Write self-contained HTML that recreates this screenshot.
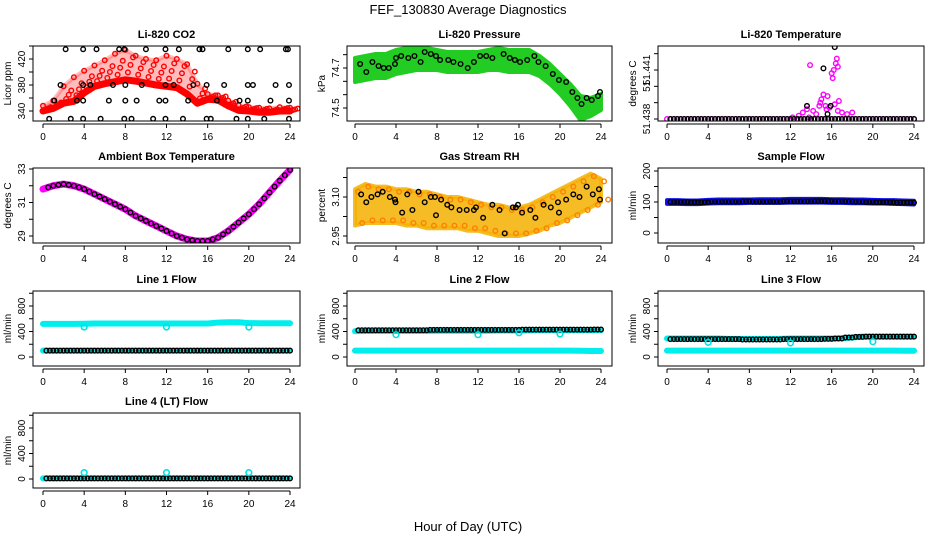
<!DOCTYPE html>
<html><head><meta charset="utf-8"><style>
html,body{margin:0;padding:0;background:#fff}
svg{display:block;font-family:"Liberation Sans",sans-serif}
</style></head><body>
<svg id="c" width="936" height="540" viewBox="0 0 936 540">
<text x="468" y="14" text-anchor="middle" font-size="13">FEF_130830  Average Diagnostics</text>
<text x="468" y="531" text-anchor="middle" font-size="13">Hour of Day (UTC)</text>
</svg>
<script>
// ---------- data ----------
const hours = [0,1,2,3,4,5,6,7,8,9,10,11,12,13,14,15,16,17,18,19,20,21,22,23,24];
const xTicks = [0,4,8,12,16,20,24];
// CO2
const co2Low  = [340,344,352,355,368,378,382,385,388,386,383,380,378,376,366,352,358,357,348,341,340,338,338,340,340];
const co2High = [348,356,378,392,402,410,418,428,434,425,420,418,425,420,412,382,366,364,356,349,346,345,344,346,345];
const co2BlkX = [2.2,3.9,5.2,7.4,7.9,10,11.9,13.2,15.2,15.5,18,19.9,21.1,23.6,23.8,1.7,3.9,4.6,6.8,8,9.6,11.9,12.7,14.6,15.9,17.6,19.9,20.4,22.6,23.9,1.1,3.3,3.9,6.4,8,9.1,11.3,11.9,14.1,16.9,19.1,19.9,22.1,23.9,0.6,2.7,3.9,5.6,7.9,8.6,10.7,11.9,13.6,15.9,16.3,18.8,19.9,21.5,23.9];
const co2BlkY = [435,435,435,435,435,435,435,435,435,435,435,435,435,435,435,380,380,380,380,380,380,380,380,380,380,380,380,380,380,380,356,356,356,356,356,356,356,356,356,356,356,356,356,356,328,328,328,328,328,328,328,328,328,328,328,328,328,328,328];
// Pressure
const prLow  = [74.63,74.64,74.65,74.65,74.67,74.68,74.69,74.69,74.69,74.68,74.68,74.68,74.68,74.69,74.69,74.68,74.68,74.68,74.66,74.62,74.57,74.51,74.44,74.46,74.49];
const prHigh = [74.75,74.76,74.77,74.77,74.79,74.80,74.81,74.80,74.79,74.78,74.78,74.78,74.78,74.79,74.80,74.79,74.79,74.79,74.76,74.72,74.67,74.62,74.56,74.55,74.57];
const prBlkX = [0.5,1.1,1.7,2.3,2.8,3.3,3.9,4.0,4.5,5.2,5.8,6.4,6.8,7.4,7.9,8.3,9.1,9.6,10.3,11,11.6,12.2,12.8,13.4,14.5,15.1,15.6,16.1,16.8,17.5,17.9,18.6,19.3,19.9,20.6,21.2,21.7,22.1,22.6,23.1,23.7,23.9];
const prBlkY = [74.72,74.68,74.73,74.71,74.70,74.70,74.72,74.75,74.76,74.75,74.76,74.73,74.78,74.77,74.76,74.74,74.74,74.73,74.72,74.70,74.73,74.76,74.76,74.75,74.77,74.75,74.74,74.73,74.74,74.76,74.73,74.71,74.67,74.64,74.63,74.58,74.55,74.52,74.55,74.54,74.56,74.58];
// Li-820 temperature
const ltBase = [51.438,51.438,51.438,51.438,51.438,51.438,51.438,51.438,51.438,51.438,51.438,51.438,51.438,51.438,51.438,51.438,51.438,51.438,51.438,51.438,51.438,51.438,51.438,51.438,51.438];
const ltMagX = [12.2,12.8,13.2,13.6,13.9,14.2,14.5,14.8,15.0,15.2,15.4,15.6,15.8,16.0,16.2,16.4,16.5,16.6,16.7,17.0,17.5,18.0,13.8,14.9,15.5,16.1,16.3,16.6];
const ltMagY = [51.4381,51.4382,51.4384,51.4386,51.4413,51.4385,51.4383,51.4388,51.4392,51.4395,51.4388,51.4394,51.4387,51.4408,51.4410,51.4414,51.4417,51.4412,51.4391,51.4384,51.4383,51.4384,51.4381,51.4390,51.4386,51.4405,51.4389,51.4385];
const ltBlkX = [13.6,15.2,15.9,16.3,15.6];
const ltBlkY = [51.4388,51.4411,51.4388,51.4424,51.4383];
// Ambient box temperature
const ambT = [31.8,32.0,32.1,32.0,31.8,31.5,31.2,30.9,30.6,30.2,29.9,29.6,29.3,29.0,28.8,28.7,28.7,28.9,29.3,29.8,30.3,30.9,31.6,32.3,32.95];
// Gas stream RH
const rhLow  = [2.99,3.00,3.00,3.00,3.00,2.99,2.99,2.98,2.98,2.98,2.98,2.97,2.97,2.96,2.95,2.95,2.95,2.96,2.97,2.99,3.00,3.02,3.04,3.06,3.08];
const rhHigh = [3.13,3.15,3.14,3.14,3.13,3.13,3.12,3.12,3.11,3.10,3.10,3.09,3.08,3.07,3.07,3.06,3.06,3.07,3.09,3.11,3.13,3.15,3.17,3.19,3.17];
const rhBlkX = [0.6,1.1,1.6,2.2,2.7,3.4,3.9,3.95,4.6,5.1,5.6,6.2,6.8,7.4,7.8,7.9,8.4,9.0,9.4,10.2,10.9,11.6,11.8,12.5,13.4,14.1,14.6,15.4,15.7,15.9,16.3,17.1,17.6,18.4,19.1,19.8,19.9,20.6,21.3,21.9,22.6,23.2,23.8,23.9];
const rhBlkY = [3.11,3.08,3.10,3.11,3.12,3.10,3.09,3.08,3.04,3.11,3.05,3.12,3.08,3.10,3.10,3.03,3.09,3.07,3.06,3.05,3.05,3.05,3.06,3.02,3.07,3.05,2.96,3.06,3.06,3.07,3.04,3.05,3.02,3.07,3.06,3.08,3.04,3.09,3.11,3.10,3.14,3.11,3.13,3.09];
// Sample flow
const sfLow  = [94,94,93,93,95,96,96,96,97,97,97,97,98,98,98,98,97,97,96,96,95,95,94,93,92];
const sfHigh = [106,106,105,105,107,108,108,108,108,109,109,109,110,110,110,110,109,109,108,108,107,106,106,105,104];
const sfBlk  = [100,100,100,99,99,101,101,101,102,101,101,101,102,102,102,103,103,102,102,101,100,99,99,98,98];
// Line flows
const l1Cyan = [520,520,520,520,522,525,525,525,525,525,525,525,525,525,525,525,525,540,545,545,532,530,530,530,530];
const l1Low  = [100,100,100,100,100,100,100,100,100,100,100,100,100,100,100,100,100,100,100,100,100,100,100,100,100];
const l1Blk  = [100,100,100,100,100,100,100,100,100,100,100,100,100,100,100,100,100,100,100,100,100,100,100,100,100];
const l1OutX = [4,12,20]; const l1OutY = [470,470,470];
const l2Cyan = [405,408,410,410,410,410,410,410,412,412,412,412,412,412,415,415,415,418,420,420,420,420,420,420,420];
const l2Low  = [100,100,100,100,100,100,100,100,100,100,100,100,100,100,100,100,100,100,100,100,100,100,98,95,95];
const l2Blk  = [420,420,420,420,420,420,420,420,425,425,425,425,425,425,425,425,425,430,430,430,430,430,430,430,432];
const l2OutX = [4,12,16,20]; const l2OutY = [350,350,380,360];
const l3Cyan = [290,290,290,290,290,290,285,285,285,285,285,285,290,290,290,290,290,295,305,320,320,320,320,320,320];
const l3Low  = [100,100,100,100,100,100,100,100,100,100,100,100,100,100,100,100,100,100,100,100,100,100,100,98,98];
const l3Blk  = [280,280,280,280,280,280,280,280,275,275,275,275,280,280,280,280,285,290,305,315,320,320,320,320,320];
const l3OutX = [4,12,20]; const l3OutY = [230,220,240];
const l4Cyan = [10,10,10,10,10,10,10,10,10,10,10,10,10,10,10,10,10,10,10,10,10,10,10,10,10];
const l4Blk  = [10,10,10,10,10,10,10,10,10,10,10,10,10,10,10,10,10,10,10,10,10,10,10,10,10];
const l4OutX = [4,12,20]; const l4OutY = [100,100,100];
const flowTicks = [0,200,400,600,800,1000];
const flowLabels = ["0","","400","","800",""];

// ---------- drawing ----------
const NS = "http://www.w3.org/2000/svg";
const svg = document.getElementById('c');
const defs = document.createElementNS(NS,'defs'); svg.appendChild(defs);
const cols = [{l:33,r:300,x0:43,x24:290},{l:347,r:612,x0:355,x24:601},{l:658,r:924,x0:667,x24:914}];
const rowTop = [46,168,291,413]; const H = 75;
function mk(tag, attrs, parent){const e=document.createElementNS(NS,tag);for(const k in attrs)e.setAttribute(k,attrs[k]);(parent||svg).appendChild(e);return e;}

function panel(name, title, col, row, v1, y1, v2, y2, yTicks, yLabels, yTitle){
  const c = cols[col], top = rowTop[row], bot = top + H;
  const g = mk('g',{});
  
  
  const sx = x => c.x0 + (x/24)*(c.x24-c.x0);
  const sy = v => y1 + (v - v1)*(y2 - y1)/(v2 - v1);
  const t = mk('text',{x:(c.l+c.r)/2,y:top-8,'text-anchor':'middle','font-size':11,'font-weight':'bold'},g);
  t.textContent = title;
  
  
  const cp = mk('clipPath',{id:'cp'+name},defs);
  mk('rect',{x:c.l,y:top,width:c.r-c.l,height:H},cp);
  const plot = mk('g',{'clip-path':'url(#cp'+name+')'},g);
  
  
  const frame = mk('rect',{x:c.l,y:top,width:c.r-c.l,height:H,fill:'none',stroke:'#000','stroke-width':1},g);
  
  
  const xa = mk('g',{},g);
  
  
  mk('line',{x1:sx(0),x2:sx(24),y1:bot+3,y2:bot+3,stroke:'#000'},xa);
  xTicks.forEach(v=>{
    mk('line',{x1:sx(v),x2:sx(v),y1:bot+3,y2:bot+7,stroke:'#000'},xa);
    const tl = mk('text',{x:sx(v),y:bot+19,'text-anchor':'middle','font-size':10},xa);
    tl.textContent = v;
    
    
  });
  const ya = mk('g',{},g);
  
  
  yTicks.forEach((v,i)=>{
    const y = sy(v);
    if (y < top-1 || y > bot+1) return;
    mk('line',{x1:c.l-4,x2:c.l,y1:y,y2:y,stroke:'#000'},ya);
    if (yLabels[i]) {
      const tl = mk('text',{x:0,y:0,'text-anchor':'middle','font-size':10,transform:`translate(${c.l-8},${y}) rotate(-90)`},ya);
      tl.textContent = yLabels[i];
      
      
    }
  });
  const yt = mk('text',{x:0,y:0,'text-anchor':'middle','font-size':10,transform:`translate(${c.l-22},${(top+bot)/2}) rotate(-90)`},g);
  yt.textContent = yTitle;
  
  
  return {plot, sx, sy, top};
}
function circ(p, x, v, color, nm, r, sw){
  const e = mk('circle',{cx:p.sx(x),cy:p.sy(v),r:r||2.3,fill:'none',stroke:color,'stroke-width':sw||1.4},p.plot);
  
  
}
function band(p, lo, hi, color, nm, op){
  let pts = hours.map((h,i)=>p.sx(h)+','+p.sy(hi[i]));
  pts = pts.concat(hours.slice().reverse().map((h,k)=>{const i=hours.length-1-k;return p.sx(h)+','+p.sy(lo[i]);}));
  const e = mk('polygon',{points:pts.join(' '),fill:color,stroke:color,'stroke-width':4,'stroke-linejoin':'round','fill-opacity':op||1,'stroke-opacity':op||1},p.plot);
  
  
}
function thick(p, vals, color, w, nm){
  const e = mk('polyline',{points:hours.map((h,i)=>p.sx(h)+','+p.sy(vals[i])).join(' '),fill:'none',stroke:color,'stroke-width':w,'stroke-linejoin':'round','stroke-linecap':'round'},p.plot);
  
  
}
function blkRow(p, vals, nm){
  vals.forEach((v,i)=>{ if(i===0) return; [i-0.67,i-0.33,i].forEach(x=>circ(p,x,v,'#000',nm)); });
}

// CO2
let p = panel('co2','Li-820 CO2',0,0,340,111,420,59,[340,360,380,400,420,440],['340','','380','','420',''],'Licor ppm');
band(p,co2Low,co2High,'#ff4040','co2-band',0.35);
thick(p,co2Low,'#ff0000',7,'co2-baseline');
hours.forEach((h,i)=>{
  circ(p,h,co2High[i],'#ff0000','co2-point');
  circ(p,h+0.5,(co2Low[i]+co2High[i])/2,'#ff0000','co2-point');
  circ(p,h+0.25,(co2Low[i]*3+co2High[i])/4,'#ff0000','co2-point');
  circ(p,h+0.75,(co2Low[i]+co2High[i]*3)/4,'#ff0000','co2-point');
});
co2BlkX.forEach((x,i)=>circ(p,x,co2BlkY[i],'#000','co2-avg-point'));
// Pressure
p = panel('pressure','Li-820 Pressure',1,0,74.5,108,74.7,68,[74.5,74.5667,74.6333,74.7,74.7667],['74.5','','','74.7',''],'kPa');
band(p,prLow,prHigh,'#22cc22','pressure-band');
prBlkX.forEach((x,i)=>circ(p,x,prBlkY[i],'#000','pressure-avg-point'));
// Li-820 temp
p = panel('li-temp','Li-820 Temperature',2,0,51.438,119,51.441,70,[51.438,51.439,51.44,51.441,51.442],['51.438','','51','51.441',''],'degrees C');
hours.forEach((h,i)=>{[h,h+0.33,h+0.67].forEach(x=>{ if(x<=24) circ(p,x,ltBase[i],'#ff00ff','li-temp-point');});});
ltMagX.forEach((x,i)=>circ(p,x,ltMagY[i],'#ff00ff','li-temp-point'));
blkRow(p,ltBase,'li-temp-avg-point');
ltBlkX.forEach((x,i)=>circ(p,x,ltBlkY[i],'#000','li-temp-avg-point'));
// Ambient
p = panel('ambient','Ambient Box Temperature',0,1,29,236,33,169,[29,30,31,32,33],['29','','31','','33'],'degrees C');
thick(p,ambT,'#ff00ff',7,'ambient-line');
ambT.forEach((v,i)=>{ if(i>0) circ(p,hours[i],v,'#000','ambient-avg-point'); });
ambT.forEach((v,i)=>{ if(i>0) circ(p,hours[i]-0.5,(v+ambT[i-1])/2,'#000','ambient-avg-point'); });
// RH
p = panel('rh','Gas Stream RH',1,1,2.95,236,3.10,197,[2.95,3.025,3.10,3.175],['2.95','','3.10',''],'percent');
band(p,rhLow,rhHigh,'#f5b000','rh-band',0.85);
hours.forEach((h,i)=>{circ(p,h+0.3,rhHigh[i]-0.01,'#ff8000','rh-point');circ(p,h+0.7,rhLow[i]+0.01,'#ff8000','rh-point');});
rhBlkX.forEach((x,i)=>circ(p,x,rhBlkY[i],'#000','rh-avg-point'));
// Sample flow
p = panel('sample-flow','Sample Flow',2,1,0,233,200,171,[0,50,100,150,200],['0','','100','','200'],'ml/min');
band(p,sfLow,sfHigh,'#1010ee','sample-flow-band');
blkRow(p,sfBlk,'sample-flow-avg-point');
// Line flows
function flowPanel(name,title,col,row,cyanHi,cyanLo,blk,ox,oy){
  const top = rowTop[row];
  const q = panel(name,title,col,row,0,top+66,800,top+15,flowTicks,flowLabels,'ml/min');
  thick(q,cyanHi,'#00eeee',6,name+'-line-a');
  if (cyanLo) thick(q,cyanLo,'#00eeee',6,name+'-line-b');
  blkRow(q,blk,name+'-avg-point');
  ox.forEach((x,i)=>circ(q,x,oy[i],'#00e0e0',name+'-outlier',2.8,1.6));
}
flowPanel('line1-flow','Line 1 Flow',0,2,l1Cyan,l1Low,l1Blk,l1OutX,l1OutY);
flowPanel('line2-flow','Line 2 Flow',1,2,l2Cyan,l2Low,l2Blk,l2OutX,l2OutY);
flowPanel('line3-flow','Line 3 Flow',2,2,l3Cyan,l3Low,l3Blk,l3OutX,l3OutY);
flowPanel('line4-flow','Line 4 (LT) Flow',0,3,l4Cyan,null,l4Blk,l4OutX,l4OutY);
</script>
</body></html>
